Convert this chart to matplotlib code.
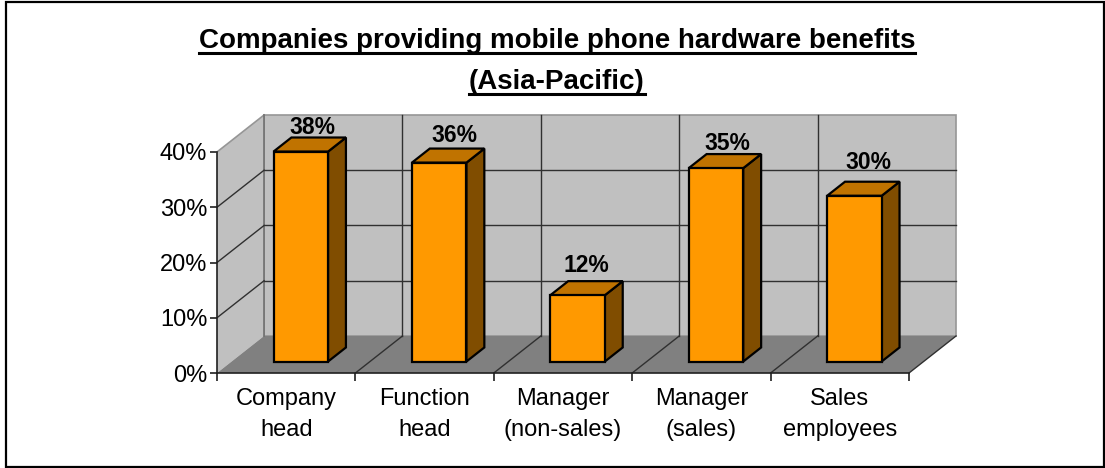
import matplotlib.pyplot as plt
from matplotlib.patches import Polygon, Rectangle
from matplotlib.lines import Line2D

plt.rcParams["font.family"] = ["Liberation Sans", "DejaVu Sans"]

# data
categories = ["Company\nhead", "Function\nhead", "Manager\n(non-sales)", "Manager\n(sales)", "Sales\nemployees"]
values = [38, 36, 12, 35, 30]
y_ticks = [0, 10, 20, 30, 40]
title_lines = ["Companies providing mobile phone hardware benefits", "(Asia-Pacific)"]

# label nudges in pixels from the back centre of the bar top
nudge_x = [-6, -3, -9, -7, -4]
nudge_y = [11, 14, 17, 12, 21]

# fake 3d look, depth goes from 0 (front) to 1 (back)
depth_x = 0.34
depth_y = 6.7
bar_w = 0.394
bar_front = 0.31
bar_back = 0.69

wall = "#C0C0C0"
floor = "#808080"
orange = "#FF9900"
top_col = "#C07300"
side_col = "#804D00"


def proj(x, v, d):
    return (x + d * depth_x, v + d * depth_y)


W, H = 1105, 468
fig = plt.figure(figsize=(W / 100, H / 100), dpi=100)
# outer frame, sits a few pixels in on the left
fig.add_artist(Rectangle((5.5 / W, 1.5 / H), (W - 6.5) / W, (H - 3.5) / H, transform=fig.transFigure,
                         fill=False, ec="black", lw=1.6))
ax = fig.add_axes([217 / W, (H - 373) / H, 692 / W, 221 / H])
n = len(categories)
ax.set_xlim(0, n)
ax.set_ylim(0, 40)
ax.patch.set_visible(False)
for s in ["top", "right"]:
    ax.spines[s].set_visible(False)
for s in ["left", "bottom"]:
    ax.spines[s].set_color("#202020")
    ax.spines[s].set_linewidth(1.2)
    ax.spines[s].set_zorder(6)


def poly(pts, fc, ec="none", lw=0, z=1):
    ax.add_patch(Polygon(pts, closed=True, fc=fc, ec=ec, lw=lw, zorder=z, clip_on=False, joinstyle="miter"))


def seg(a, b, color="#303030", lw=1.0, z=2):
    ax.add_line(Line2D([a[0], b[0]], [a[1], b[1]], color=color, lw=lw, zorder=z, clip_on=False))


ymax = y_ticks[-1]
# walls and floor
poly([proj(0, 0, 1), proj(n, 0, 1), proj(n, ymax, 1), proj(0, ymax, 1)], wall, "#969696", 1.2)
poly([proj(0, 0, 0), proj(0, 0, 1), proj(0, ymax, 1), proj(0, ymax, 0)], wall)
poly([proj(0, 0, 0), proj(n, 0, 0), proj(n, 0, 1), proj(0, 0, 1)], floor)
seg(proj(0, ymax, 0), proj(0, ymax, 1), "#969696", 1.2)
seg(proj(n, 0, 0), proj(n, 0, 1), "#303030", 1.0)
seg(proj(0, 0, 1), proj(0, ymax, 1), "#707070", 1.2)

# gridlines on the walls and floor
for t in y_ticks[1:-1]:
    seg(proj(0, t, 0), proj(0, t, 1))
    seg(proj(0, t, 1), proj(n, t, 1))
for c in range(1, n):
    seg(proj(c, 0, 0), proj(c, 0, 1))
    seg(proj(c, 0, 1), proj(c, ymax, 1))

# bars
for i, v in enumerate(values):
    x0 = i + (1 - bar_w) / 2
    x1 = x0 + bar_w
    poly([proj(x1, 0, bar_front), proj(x1, 0, bar_back), proj(x1, v, bar_back), proj(x1, v, bar_front)],
         side_col, "black", 1.6, 3)
    poly([proj(x0, v, bar_front), proj(x1, v, bar_front), proj(x1, v, bar_back), proj(x0, v, bar_back)],
         top_col, "black", 1.6, 3)
    poly([proj(x0, 0, bar_front), proj(x1, 0, bar_front), proj(x1, v, bar_front), proj(x0, v, bar_front)],
         orange, "black", 1.6, 4)
    ax.annotate(f"{v}%", xy=proj(i + 0.5, v, bar_back), xytext=(nudge_x[i] * 0.72, nudge_y[i] * 0.72 - 1),
                textcoords="offset points", ha="center", va="center", fontsize=16.5, fontweight="bold",
                color="black", zorder=7, annotation_clip=False)

ax.set_yticks(y_ticks)
ax.set_yticklabels([f"{t}%" for t in y_ticks], fontsize=17, color="black")
ax.tick_params(axis="y", length=5, width=1.2, color="#202020", pad=2)
ax.set_xticks(range(n + 1))
ax.set_xticklabels([])
ax.tick_params(axis="x", which="major", length=6, width=1.2, color="#202020")
ax.set_xticks([i + 0.5 for i in range(n)], categories, minor=True, fontsize=17, linespacing=1.5)
ax.tick_params(axis="x", which="minor", length=0, pad=11)

# title with an underline under each line
title_y = [41, 82]
fig.canvas.draw()
for line, yp in zip(title_lines, title_y):
    t = fig.text(557 / W, (H - yp) / H, line, ha="center", va="center", fontsize=20, fontweight="bold")
    bb = t.get_window_extent(fig.canvas.get_renderer())
    fig.add_artist(Line2D([bb.x0 / W, bb.x1 / W], [(H - yp - 12) / H] * 2, color="black", lw=2.2,
                          transform=fig.transFigure))

fig.savefig("out.png", dpi=100)
